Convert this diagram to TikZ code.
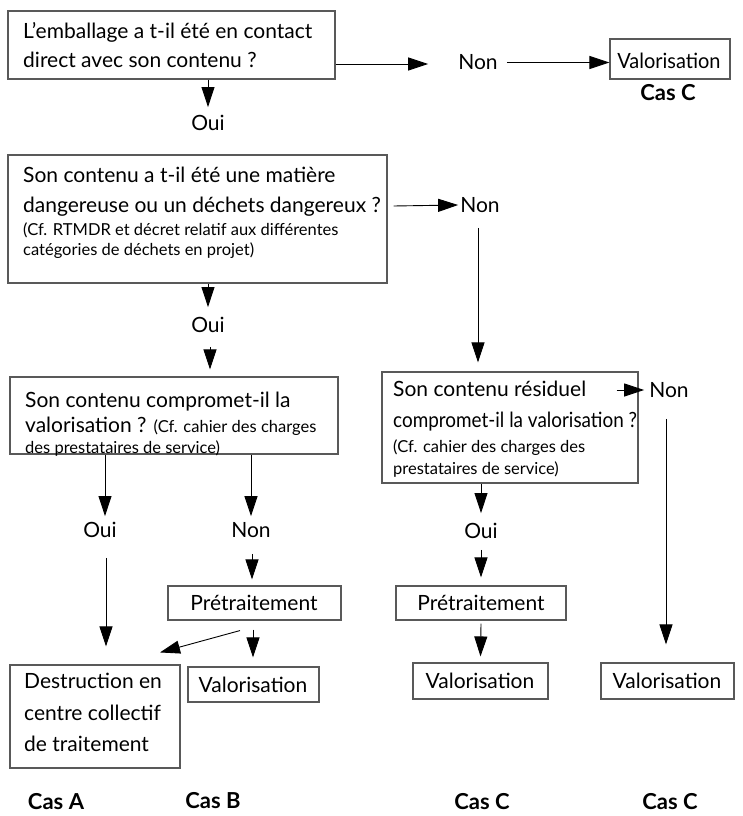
\documentclass[tikz,border=0pt]{standalone}
\usepackage{fontspec}
\setmainfont{Lato}
\usetikzlibrary{arrows.meta,calc}
\newcommand\smalltxt{\fontsize{16.5}{19}\selectfont}
\begin{document}
\begin{tikzpicture}[x=1pt,y=-1pt,
  box/.style={draw=black!65, line width=1.1pt, rectangle, inner sep=0pt},
  txt/.style={inner sep=0pt, anchor=base west, font=\fontsize{21}{24}\selectfont},
  sml/.style={inner sep=0pt, anchor=base west, font=\smalltxt},
  lbl/.style={inner sep=0pt, font=\fontsize{21}{24}\selectfont},
  cas/.style={inner sep=0pt, font=\fontsize{22}{26}\selectfont\bfseries},
  arr/.style={line width=0.9pt, -{Triangle[length=20pt,width=13pt]}},
  ln/.style={line width=0.9pt},
]
\useasboundingbox[fill=white] (0,0) rectangle (742,816);

% ---- boxes ----
\node[box, minimum width=327pt, minimum height=68pt] (q1) at (171.5,45) {};
\node[box, minimum width=120pt, minimum height=40pt] (val1) at (670,59) {};
\node[box, minimum width=379pt, minimum height=128pt] (q2) at (197.5,219) {};
\node[box, minimum width=328pt, minimum height=77pt] (q3) at (174,415.5) {};
\node[box, minimum width=256pt, minimum height=111pt] (q4) at (510,427.5) {};
\node[box, minimum width=173pt, minimum height=34pt] (pre1) at (254.5,603) {};
\node[box, minimum width=170pt, minimum height=34pt] (pre2) at (481,603) {};
\node[box, minimum width=170pt, minimum height=103pt] (dest) at (95,716.5) {};
\node[box, minimum width=131pt, minimum height=35pt] (valB) at (253.5,684.5) {};
\node[box, minimum width=135pt, minimum height=36pt] (valC) at (480.5,681) {};
\node[box, minimum width=133pt, minimum height=36pt] (valR) at (667.5,681) {};

% ---- box texts ----
\node[txt] (q1a) at (23,38) {L’emballage a t-il été en contact};
\node[txt] (q1b) at (23,67) {direct avec son contenu ?};
\node[lbl] (val1t) at (669,61) {\scalebox{0.95}[1]{Valorisation}};

\node[txt] (q2a) at (23,182) {Son contenu a t-il été une matière};
\node[txt] (q2b) at (23,212) {dangereuse ou un déchets dangereux ?};
\node[sml] (q2c) at (23,235) {(Cf. RTMDR et décret relatif aux différentes};
\node[sml] (q2d) at (23,255) {catégories de déchets en projet)};

\node[txt] (q3a) at (25,407) {Son contenu compromet-il la};
\node[txt] (q3b) at (25,432) {valorisation ? {\smalltxt (Cf. cahier des charges}};
\node[sml] (q3c) at (25,453) {des prestataires de service)};

\node[txt] (q4a) at (393,396) {Son contenu résiduel};
\node[txt] (q4b) at (393,427) {\scalebox{0.9}[1]{compromet-il la valorisation ?}};
\node[sml] (q4c) at (393,452) {(Cf. cahier des charges des};
\node[sml] (q4d) at (393,474) {prestataires de service)};

\node[lbl] (pre1t) at (254,603) {Prétraitement};
\node[lbl] (pre2t) at (481,603) {Prétraitement};

\node[txt] (desta) at (24,688) {Destruction en};
\node[txt] (destb) at (24,720) {centre collectif};
\node[txt] (destc) at (24,751) {de traitement};

\node[lbl] (valBt) at (253,685) {Valorisation};
\node[lbl] (valCt) at (480,681) {Valorisation};
\node[lbl] (valRt) at (667,681) {Valorisation};

% ---- labels ----
\node[lbl] (non1) at (478,62.5) {Non};
\node[cas] (casC1) at (668,93) {Cas C};
\node[lbl] (oui1) at (208,123) {Oui};
\node[lbl] (non2) at (480,205) {Non};
\node[lbl] (oui2) at (208,325) {Oui};
\node[lbl] (oui3) at (100,530) {Oui};
\node[lbl] (non3) at (251,530) {Non};
\node[lbl] (non4) at (669,390) {Non};
\node[lbl] (oui4) at (481,531) {Oui};
\node[cas] (casA) at (56,802) {Cas A};
\node[cas] (casB) at (213,801) {Cas B};
\node[cas] (casC2) at (482,802) {Cas C};
\node[cas] (casC3) at (670,802) {Cas C};

% ---- connectors ----
\draw[arr] (q1.east |- 0,64) -- ($(non1.west)+(-30,1.5)$);
\draw[arr] ($(non1.east)+(9,0)$) -- (val1.west |- non1.east);
\draw[arr] (q1.south -| oui1) -- ($(oui1.north)+(0,-8)$);

\draw[arr] ($(q2.east |- 0,206)+(6,0)$) -- ($(non2.west)+(-2,0)$);
\draw[arr] (q2.south -| oui2) -- ($(oui2.north)+(0,-10)$);
\draw[arr] ($(oui2.south)+(2,14)$) -- ($(q3.north -| 210,0)+(0,-7)$);
\draw[arr] ($(non2.south)+(-2,15)$) -- ($(q4.north -| 478,0)+(0,-9)$);

\draw[arr] (q3.south -| 105,0) -- ($(oui3.north)+(5,-6)$);
\draw[arr] (q3.south -| 251,0) -- ($(non3.north)+(0,-6)$);
\draw[arr] ($(oui3.south)+(6,20)$) -- ($(dest.north -| 106,0)+(0,-18)$);
\draw[arr] ($(non3.south)+(1,16)$) -- ($(pre1.north -| 252,0)+(0,-6)$);
\draw[arr] ($(pre1.south -| 240,0)+(0,10)$) -- ($(dest.north -| 160,0)+(0,-12)$);
\draw[arr] ($(pre1.south -| 253,0)+(0,9)$) -- ($(valB.north -| 253,0)+(0,-9)$);

\draw[arr] ($(q4.east |- 0,390)+(-22,0)$) -- ($(non4.west)+(-5,0)$);
\draw[arr] ($(non4.south)+(-3,21)$) -- ($(valR.north -| 666,0)+(0,-18)$);
\draw[arr] (q4.south -| oui4) -- ($(oui4.north)+(0,-10)$);
\draw[arr] ($(oui4.south)+(0,11)$) -- ($(pre2.north)+(0,-8)$);
\draw[arr] ($(pre2.south)+(0,3)$) -- ($(valC.north)+(0,-6)$);
\end{tikzpicture}
\end{document}
